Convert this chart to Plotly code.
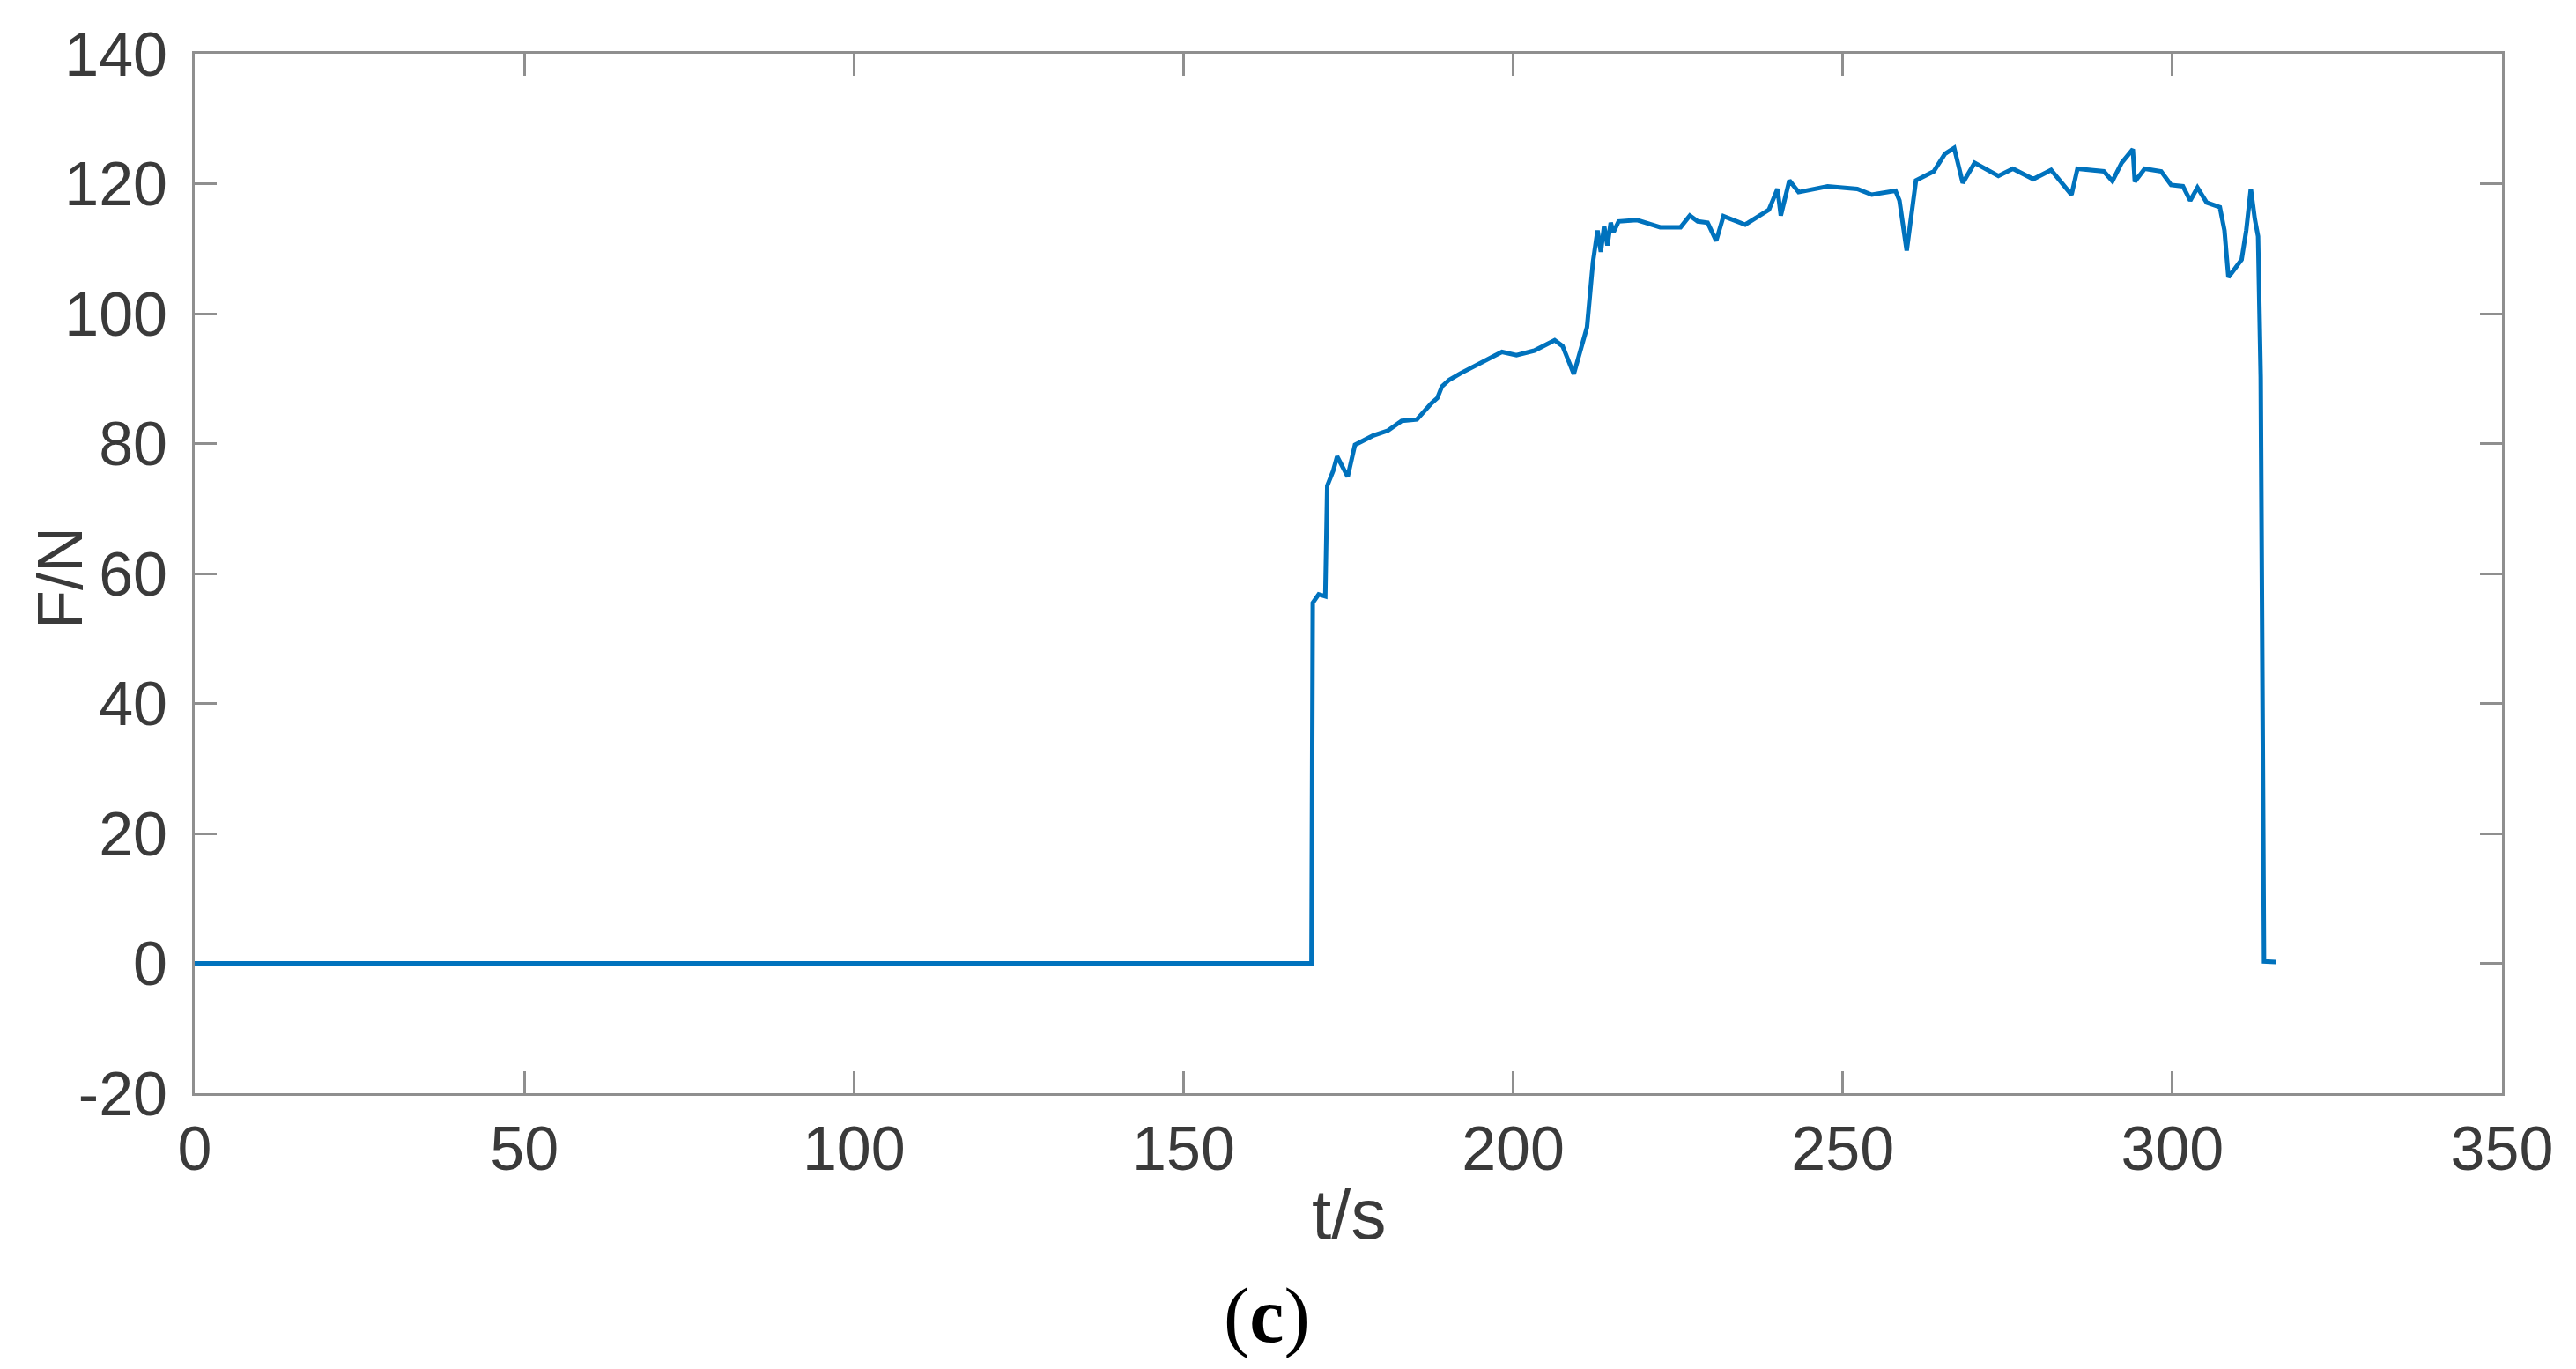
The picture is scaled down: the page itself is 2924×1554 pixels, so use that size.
import plotly.graph_objects as go

# Data (time in s, force in N)
time_s = [0, 169.4, 169.6, 170.5, 171.5, 171.8, 172.7, 173.3, 174.9, 176.0,
          178.7, 181.0, 183.1, 185.4, 187.6, 188.5, 189.2, 190.3, 192.0, 194.3,
          198.3, 200.5, 203.2, 206.3, 207.5, 209.2, 211.2, 212.1, 212.8, 213.3,
          213.8, 214.3, 214.8, 215.2, 216.0, 218.8, 222.3, 225.4, 226.8, 228.0,
          229.5, 230.8, 231.9, 235.2, 238.8, 240.1, 240.6, 241.9, 243.3, 247.7,
          252.2, 254.4, 258.0, 258.6, 259.7, 261.1, 263.8, 265.5, 266.9, 268.2,
          270.0, 273.6, 275.8, 278.9, 281.6, 284.7, 285.6, 289.6, 290.9, 292.3,
          294.0, 294.3, 295.8, 298.3, 299.8, 301.6, 302.7, 303.8, 305.2, 307.2,
          307.9, 308.5, 310.5, 311.2, 311.9, 312.5, 313.0, 313.4, 313.9, 315.7]
force_n = [0, 0, 55.5, 56.8, 56.5, 73.5, 75.8, 78.0, 74.9, 79.8,
           81.2, 82.0, 83.5, 83.7, 86.2, 87.0, 88.8, 89.8, 90.8, 92.0,
           94.1, 93.6, 94.3, 95.9, 95.0, 90.7, 97.9, 107.9, 112.8, 109.5,
           113.5, 110.5, 114.0, 112.5, 114.2, 114.4, 113.3, 113.3, 115.1, 114.2,
           114.0, 111.2, 115.0, 113.7, 116.0, 119.2, 115.1, 120.5, 118.7, 119.6,
           119.2, 118.3, 118.9, 117.4, 109.7, 120.5, 121.9, 124.6, 125.5, 120.1,
           123.2, 121.2, 122.3, 120.7, 122.1, 118.3, 122.3, 121.9, 120.4, 123.2,
           125.3, 120.3, 122.3, 121.9, 119.8, 119.6, 117.4, 119.4, 117.1, 116.4,
           112.8, 105.6, 108.3, 112.8, 119.2, 114.6, 111.9, 90.2, 0.3, 0.2]

x_ticks = [0, 50, 100, 150, 200, 250, 300, 350]
y_ticks = [-20, 0, 20, 40, 60, 80, 100, 120, 140]

W, H = 2924, 1554
L, R, T, B = 213, 92, 53, 321
pw, ph = W - L - R, H - T - B


def px(x):
    return (x - L) / pw


def py(y):
    return (H - B - y) / ph


axis_color = "#8f8f8f"
text_color = "#3a3a3a"
font_family = "Arial, Liberation Sans, Helvetica, sans-serif"

fig = go.Figure()
fig.add_trace(go.Scatter(x=time_s, y=force_n, mode="lines",
                         line=dict(color="#0072BD", width=5),
                         showlegend=False, hoverinfo="skip"))

common = dict(showgrid=False, zeroline=False, showline=True, linecolor=axis_color,
              linewidth=3, mirror="ticks", ticks="inside", ticklen=25, tickwidth=3,
              tickcolor=axis_color, layer="below traces",
              tickfont=dict(family=font_family, size=70, color=text_color))

fig.update_xaxes(range=[0, 350], tickmode="array", tickvals=x_ticks,
                 ticktext=[str(v) for v in x_ticks], **common)
fig.update_yaxes(range=[-20, 140], tickmode="array", tickvals=y_ticks,
                 ticktext=[str(v) for v in y_ticks], ticklabelstandoff=14, **common)

fig.update_layout(
    width=W, height=H,
    margin=dict(l=L, r=R, t=T, b=B),
    paper_bgcolor="white", plot_bgcolor="white",
    annotations=[
        dict(text="t/s", x=0.5, y=py(1370),
             xref="paper", yref="paper", showarrow=False,
             xanchor="center", yanchor="middle",
             font=dict(family=font_family, size=80, color=text_color)),
        dict(text="F/N", x=px(60), y=py(648), xref="paper", yref="paper",
             showarrow=False, textangle=-90, xanchor="center", yanchor="middle",
             font=dict(family=font_family, size=72, color=text_color)),
        dict(text="(<b>c</b>)", x=px(1430), y=py(1485),
             xref="paper", yref="paper", showarrow=False,
             xanchor="center", yanchor="middle",
             font=dict(family="Times New Roman, Liberation Serif, serif", size=88, color="#000000")),
    ],
)

fig.write_html("out.html")
